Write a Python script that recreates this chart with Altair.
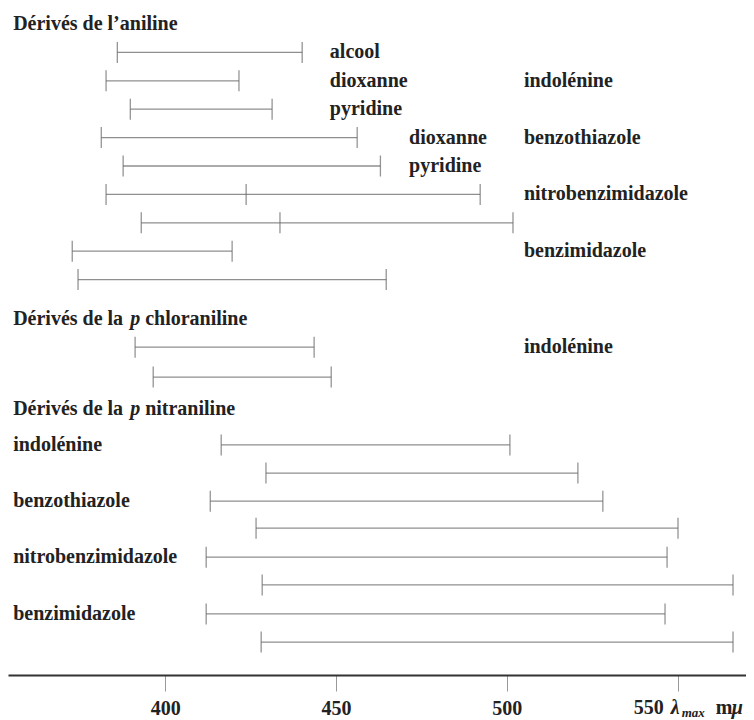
import altair as alt
import pandas as pd

# ---------------- data (wavelengths in m\u03bc) ----------------
# Dérivés de l'aniline
ani_rows = [1, 2, 3, 4, 5, 6, 7, 8, 9]
ani_start = [386.0, 382.7, 389.8, 381.3, 387.7, 382.7, 393.0, 372.8, 374.5]
ani_end = [440.1, 421.6, 431.3, 456.2, 463.0, 492.2, 501.8, 419.6, 464.7]
ani_mid_rows = [6, 7]
ani_mid = [423.7, 433.6]
# Dérivés de la p chloraniline
chl_rows = [11.38, 12.43]
chl_start = [391.2, 396.5]
chl_end = [443.6, 448.6]
# Dérivés de la p nitraniline
nit_rows = [14.82, 15.81, 16.8, 17.75, 18.77, 19.75, 20.77, 21.76]
nit_start = [416.4, 429.5, 413.2, 426.6, 412.0, 428.4, 412.0, 428.1]
nit_end = [500.9, 520.8, 528.1, 550.1, 546.9, 566.2, 546.3, 566.2]

solvent_labels = ["alcool", "dioxanne", "pyridine", "dioxanne", "pyridine"]
solvent_rows = [1, 2, 3, 4, 5]
solvent_x = [448.2, 448.2, 448.2, 471.4, 471.4]

compound_labels = ["indolénine", "benzothiazole", "nitrobenzimidazole", "benzimidazole", "indolénine"]
compound_rows = [2, 4, 6, 8, 11.38]
compound_x = 505.0

nit_labels = ["indolénine", "benzothiazole", "nitrobenzimidazole", "benzimidazole"]
nit_label_rows = [14.82, 16.8, 18.77, 20.77]
left_x = 355.5

title1 = "Dérivés de l\u2019aniline"
title_rows = [10.4, 13.55]
title_prefix = ["Dérivés de la", "Dérivés de la"]
title_suffix = ["chloraniline", "nitraniline"]

tick_values = [400, 450, 500, 550]

# ---------------- tables ----------------
bars = pd.DataFrame({
    "row": ani_rows + chl_rows + nit_rows,
    "start": ani_start + chl_start + nit_start,
    "end": ani_end + chl_end + nit_end,
})
ticks = pd.DataFrame({
    "row": list(bars["row"]) + list(bars["row"]) + ani_mid_rows,
    "x": list(bars["start"]) + list(bars["end"]) + ani_mid,
})
labels = pd.DataFrame({
    "row": solvent_rows + compound_rows + nit_label_rows,
    "x": solvent_x + [compound_x] * len(compound_rows) + [left_x] * len(nit_label_rows),
    "text": solvent_labels + compound_labels + nit_labels,
})
titles = pd.DataFrame({
    "row": [0] + title_rows,
    "x": [left_x] * 3,
    "prefix": [title1] + title_prefix,
    "p": [""] + ["p"] * len(title_rows),
    "suffix": [""] + title_suffix,
})
unit = pd.DataFrame({"x": [550]})

W, H = 738, 667
FONT = "Liberation Serif"
xscale = alt.Scale(domain=[354, 570], nice=False, zero=False)
yscale = alt.Scale(domain=[-0.563, 22.92], nice=False, zero=False, reverse=True)
xaxis = alt.Axis(
    values=tick_values, title=None, grid=False,
    domainColor="#333333", domainWidth=1.8,
    tickColor="#999999", tickSize=16, tickWidth=1,
    labelFont=FONT, labelFontWeight="bold", labelFontSize=20, labelColor="#222222",
    labelPadding=7, labelFlush=False, labelOverlap=False,
    labelExpr="datum.value == 550 ? '' : datum.label",
)

def X(field):
    return alt.X(field, type="quantitative", scale=xscale, axis=xaxis)

Y = alt.Y("row:Q", scale=yscale, axis=None)

rules = alt.Chart(bars).mark_rule(color="#8f8f8f", strokeWidth=1.3).encode(
    x=X("start"), x2="end", y=Y
)
endticks = alt.Chart(ticks).mark_tick(
    orient="vertical", size=21, thickness=1.3, color="#666666"
).encode(x=X("x"), y=Y)

txt = dict(font=FONT, fontWeight="bold", fontSize=20, color="#222222",
           align="left", baseline="middle")

label_layer = alt.Chart(labels).mark_text(**txt).encode(x=X("x"), y=Y, text="text:N")
t_prefix = alt.Chart(titles).mark_text(**txt).encode(x=X("x"), y=Y, text="prefix:N")
t_p = alt.Chart(titles).mark_text(**{**txt, "fontStyle": "italic"}, dx=117).encode(
    x=X("x"), y=Y, text="p:N")
t_suffix = alt.Chart(titles).mark_text(**txt, dx=132).encode(x=X("x"), y=Y, text="suffix:N")

ybase = H + 16 + 7
utxt = dict(font=FONT, fontWeight="bold", fontSize=20, color="#222222",
            align="left", baseline="top")
u1 = alt.Chart(unit).mark_text(**utxt, dx=-44).encode(
    x=X("x"), y=alt.value(ybase), text=alt.value("550"))
u2 = alt.Chart(unit).mark_text(**{**utxt, "fontStyle": "italic"}, dx=-7).encode(
    x=X("x"), y=alt.value(ybase), text=alt.value("\u03bb"))
u3 = alt.Chart(unit).mark_text(**{**utxt, "fontStyle": "italic", "fontSize": 13}, dx=4, dy=9).encode(
    x=X("x"), y=alt.value(ybase), text=alt.value("max"))
u4 = alt.Chart(unit).mark_text(**utxt, dx=38).encode(
    x=X("x"), y=alt.value(ybase), text=alt.value("m"))
u5 = alt.Chart(unit).mark_text(**{**utxt, "fontStyle": "italic"}, dx=54).encode(
    x=X("x"), y=alt.value(ybase), text=alt.value("\u03bc"))

chart = alt.layer(
    rules, endticks, label_layer, t_prefix, t_p, t_suffix, u1, u2, u3, u4, u5
).properties(
    width=W, height=H,
    autosize=alt.AutoSizeParams(type="none"),
    padding={"left": 0, "top": 0, "right": 0, "bottom": 45},
    background="white",
).configure_view(stroke=None)

chart.save("out.html", embed_options={"renderer": "svg", "actions": False})
